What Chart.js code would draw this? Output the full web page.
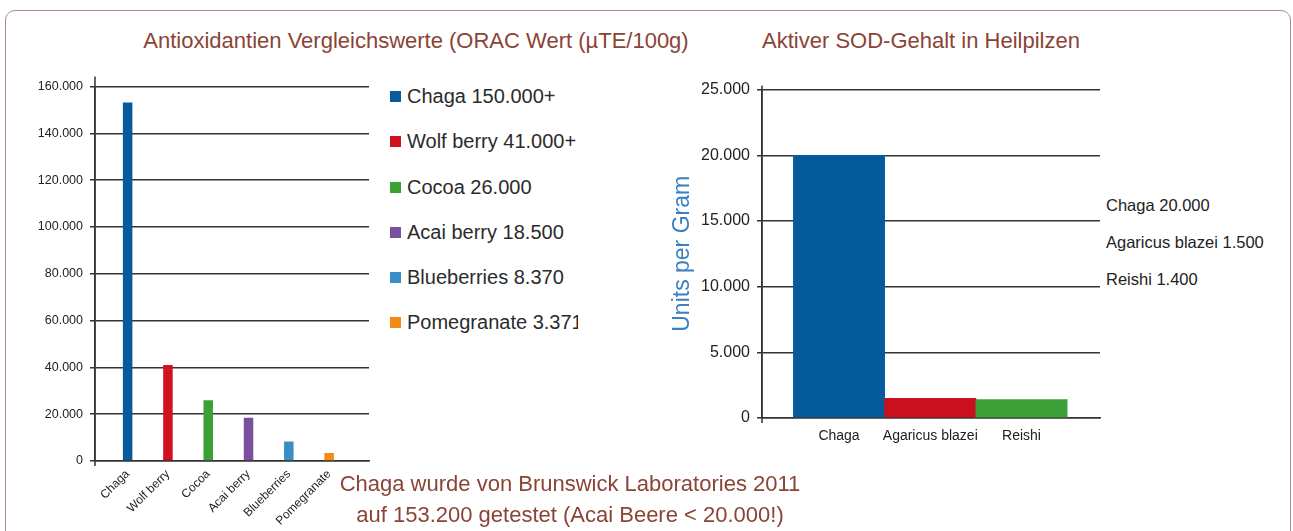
<!DOCTYPE html>
<html>
<head>
<meta charset="utf-8">
<script src="https://cdn.jsdelivr.net/npm/chart.js@4"></script>
<style>
    body { margin: 0; width: 1293px; height: 531px; background: #fff; overflow: hidden; position: relative; font-family: "Liberation Sans", Arial, sans-serif; }
    .frame { position: absolute; left: 5px; top: 10px; width: 1284px; height: 560px; border: 1.5px solid #b38a80; border-radius: 10px; }
    .title, .caption { position: absolute; white-space: nowrap; color: #8a4436; font-family: "Liberation Sans", Arial, sans-serif; font-size: 22px; transform: translateX(-50%); }
    .caption { text-align: center; line-height: 31px; }
    canvas { position: absolute; }
    #legend { position: absolute; left: 390px; top: 85px; width: 188px; overflow: hidden; }
    .item { height: 45.3px; white-space: nowrap; font-size: 20px; color: #2b2b2b; }
    .item span.sw { display: inline-block; width: 11px; height: 11px; margin-right: 6px; vertical-align: 1px; }
    #notes { position: absolute; left: 1106px; top: 196px; }
    .note { height: 37px; font-size: 16.5px; color: #222; white-space: nowrap; }
</style>
</head>
<body>
<div class="frame"></div>
<div class="title" style="left:416px; top:28px;">Antioxidantien Vergleichswerte (ORAC Wert (µTE/100g)</div>
<div class="title" style="left:921px; top:28px;">Aktiver SOD-Gehalt in Heilpilzen</div>
<canvas id="oracChart" width="372" height="459" style="left:0; top:72px;"></canvas>
<div id="legend"></div>
<canvas id="sodChart" width="444" height="385" style="left:660px; top:73px;"></canvas>
<div id="notes"></div>
<div class="caption" style="left:570px; top:468px;">Chaga wurde von Brunswick Laboratories 2011<br>auf 153.200 getestet (Acai Beere &lt; 20.000!)</div>
<script>
// ORAC Vergleich (links)
const oracLabels = ['Chaga', 'Wolf berry', 'Cocoa', 'Acai berry', 'Blueberries', 'Pomegranate'];
const oracValues = [153200, 41000, 26000, 18500, 8370, 3371];
const oracLegend = ['Chaga 150.000+', 'Wolf berry 41.000+', 'Cocoa 26.000', 'Acai berry 18.500', 'Blueberries 8.370', 'Pomegranate 3.371'];
const oracColors = ['#075a9b', '#d0111f', '#3ba036', '#7a4f9e', '#3a8ec5', '#f38b12'];
const oracMax = 160000, oracStep = 20000;

// SOD Gehalt (rechts)
const sodLabels = ['Chaga', 'Agaricus blazei', 'Reishi'];
const sodValues = [20000, 1500, 1400];
const sodColors = ['#055a9c', '#c9101f', '#3c9f38'];
const sodMax = 25000, sodStep = 5000;

function fmt(v) { return v.toLocaleString('de-DE'); }

// y-Achse etwas über/unter die Fläche verlängern wie im Original
const axisOverhang = {
    id: 'axisOverhang',
    afterDraw: function (chart, args, opts) {
        const a = chart.chartArea, ctx = chart.ctx;
        ctx.save();
        ctx.strokeStyle = '#333';
        ctx.lineWidth = 1.5;
        ctx.beginPath();
        ctx.moveTo(a.left, a.top - opts.up);
        ctx.lineTo(a.left, a.bottom + opts.down);
        ctx.stroke();
        ctx.restore();
    }
};

document.addEventListener('DOMContentLoaded', function () {
    const lineCol = '#333';

    const legend = document.getElementById('legend');
    oracLegend.forEach(function (txt, i) {
        const row = document.createElement('div');
        row.className = 'item';
        row.innerHTML = '<span class="sw" style="background:' + oracColors[i] + '"></span>' + txt;
        legend.appendChild(row);
    });

    const notes = document.getElementById('notes');
    sodLabels.forEach(function (lbl, i) {
        const row = document.createElement('div');
        row.className = 'note';
        row.textContent = lbl + ' ' + fmt(sodValues[i]);
        notes.appendChild(row);
    });

    new Chart(document.getElementById('oracChart'), {
        type: 'bar',
        plugins: [axisOverhang],
        data: {
            datasets: [{
                data: oracValues.map(function (v, i) { return { x: i, y: v }; }),
                backgroundColor: oracColors,
                borderWidth: 0,
                categoryPercentage: 1,
                barPercentage: 0.236
            }]
        },
        options: {
            responsive: false,
            animation: false,
            devicePixelRatio: 1,
            layout: { padding: { top: 8, right: 3, left: 0, bottom: 0 } },
            plugins: { legend: { display: false }, tooltip: { enabled: false }, axisOverhang: { up: 10, down: 5 } },
            scales: {
                x: {
                    type: 'linear',
                    offset: false,
                    min: -0.81,
                    max: 5.99,
                    afterBuildTicks: function (scale) {
                        scale.ticks = oracLabels.map(function (l, i) { return { value: i }; });
                    },
                    afterFit: function (scale) { scale.height = 70; },
                    grid: { display: false, drawTicks: false },
                    border: { display: true, color: lineCol, width: 1.5 },
                    ticks: {
                        autoSkip: false,
                        minRotation: 45,
                        maxRotation: 45,
                        padding: 6,
                        color: '#222',
                        font: { family: 'Liberation Sans', size: 12 },
                        callback: function (v) { return oracLabels[v]; }
                    }
                },
                y: {
                    min: 0,
                    max: oracMax,
                    afterFit: function (scale) { scale.width = 95; },
                    grid: { color: lineCol, lineWidth: 1.5, tickLength: 5 },
                    border: { display: true, color: lineCol, width: 1.5 },
                    ticks: {
                        stepSize: oracStep,
                        padding: 7,
                        color: '#222',
                        font: { family: 'Liberation Sans', size: 12.5 },
                        callback: function (v) { return fmt(v); }
                    }
                }
            }
        }
    });

    new Chart(document.getElementById('sodChart'), {
        type: 'bar',
        plugins: [axisOverhang],
        data: {
            datasets: [{
                data: sodValues.map(function (v, i) { return { x: i, y: v }; }),
                backgroundColor: sodColors,
                borderWidth: 0,
                categoryPercentage: 1,
                barPercentage: 1
            }]
        },
        options: {
            responsive: false,
            animation: false,
            devicePixelRatio: 1,
            layout: { padding: { top: 4, right: 4, left: 0, bottom: 0 } },
            plugins: { legend: { display: false }, tooltip: { enabled: false }, axisOverhang: { up: 4, down: 5 } },
            scales: {
                x: {
                    type: 'linear',
                    offset: false,
                    min: -0.844,
                    max: 2.86,
                    afterBuildTicks: function (scale) {
                        scale.ticks = sodLabels.map(function (l, i) { return { value: i }; });
                    },
                    afterFit: function (scale) { scale.height = 40; },
                    grid: { display: false, drawTicks: false },
                    border: { display: true, color: lineCol, width: 1.5 },
                    ticks: {
                        autoSkip: false,
                        maxRotation: 0,
                        padding: 10,
                        color: '#222',
                        font: { family: 'Liberation Sans', size: 14 },
                        callback: function (v) { return sodLabels[v]; }
                    }
                },
                y: {
                    min: 0,
                    max: sodMax,
                    afterFit: function (scale) { scale.width = 102; },
                    title: {
                        display: true,
                        text: 'Units per Gram',
                        color: '#3b80c1',
                        font: { family: 'Liberation Sans', size: 23 },
                        padding: { top: 9, bottom: 0 }
                    },
                    grid: { color: lineCol, lineWidth: 1.5, tickLength: 5 },
                    border: { display: true, color: lineCol, width: 1.5 },
                    ticks: {
                        stepSize: sodStep,
                        padding: 7,
                        color: '#222',
                        font: { family: 'Liberation Sans', size: 16 },
                        callback: function (v) { return fmt(v); }
                    }
                }
            }
        }
    });
});
</script>
</body>
</html>
